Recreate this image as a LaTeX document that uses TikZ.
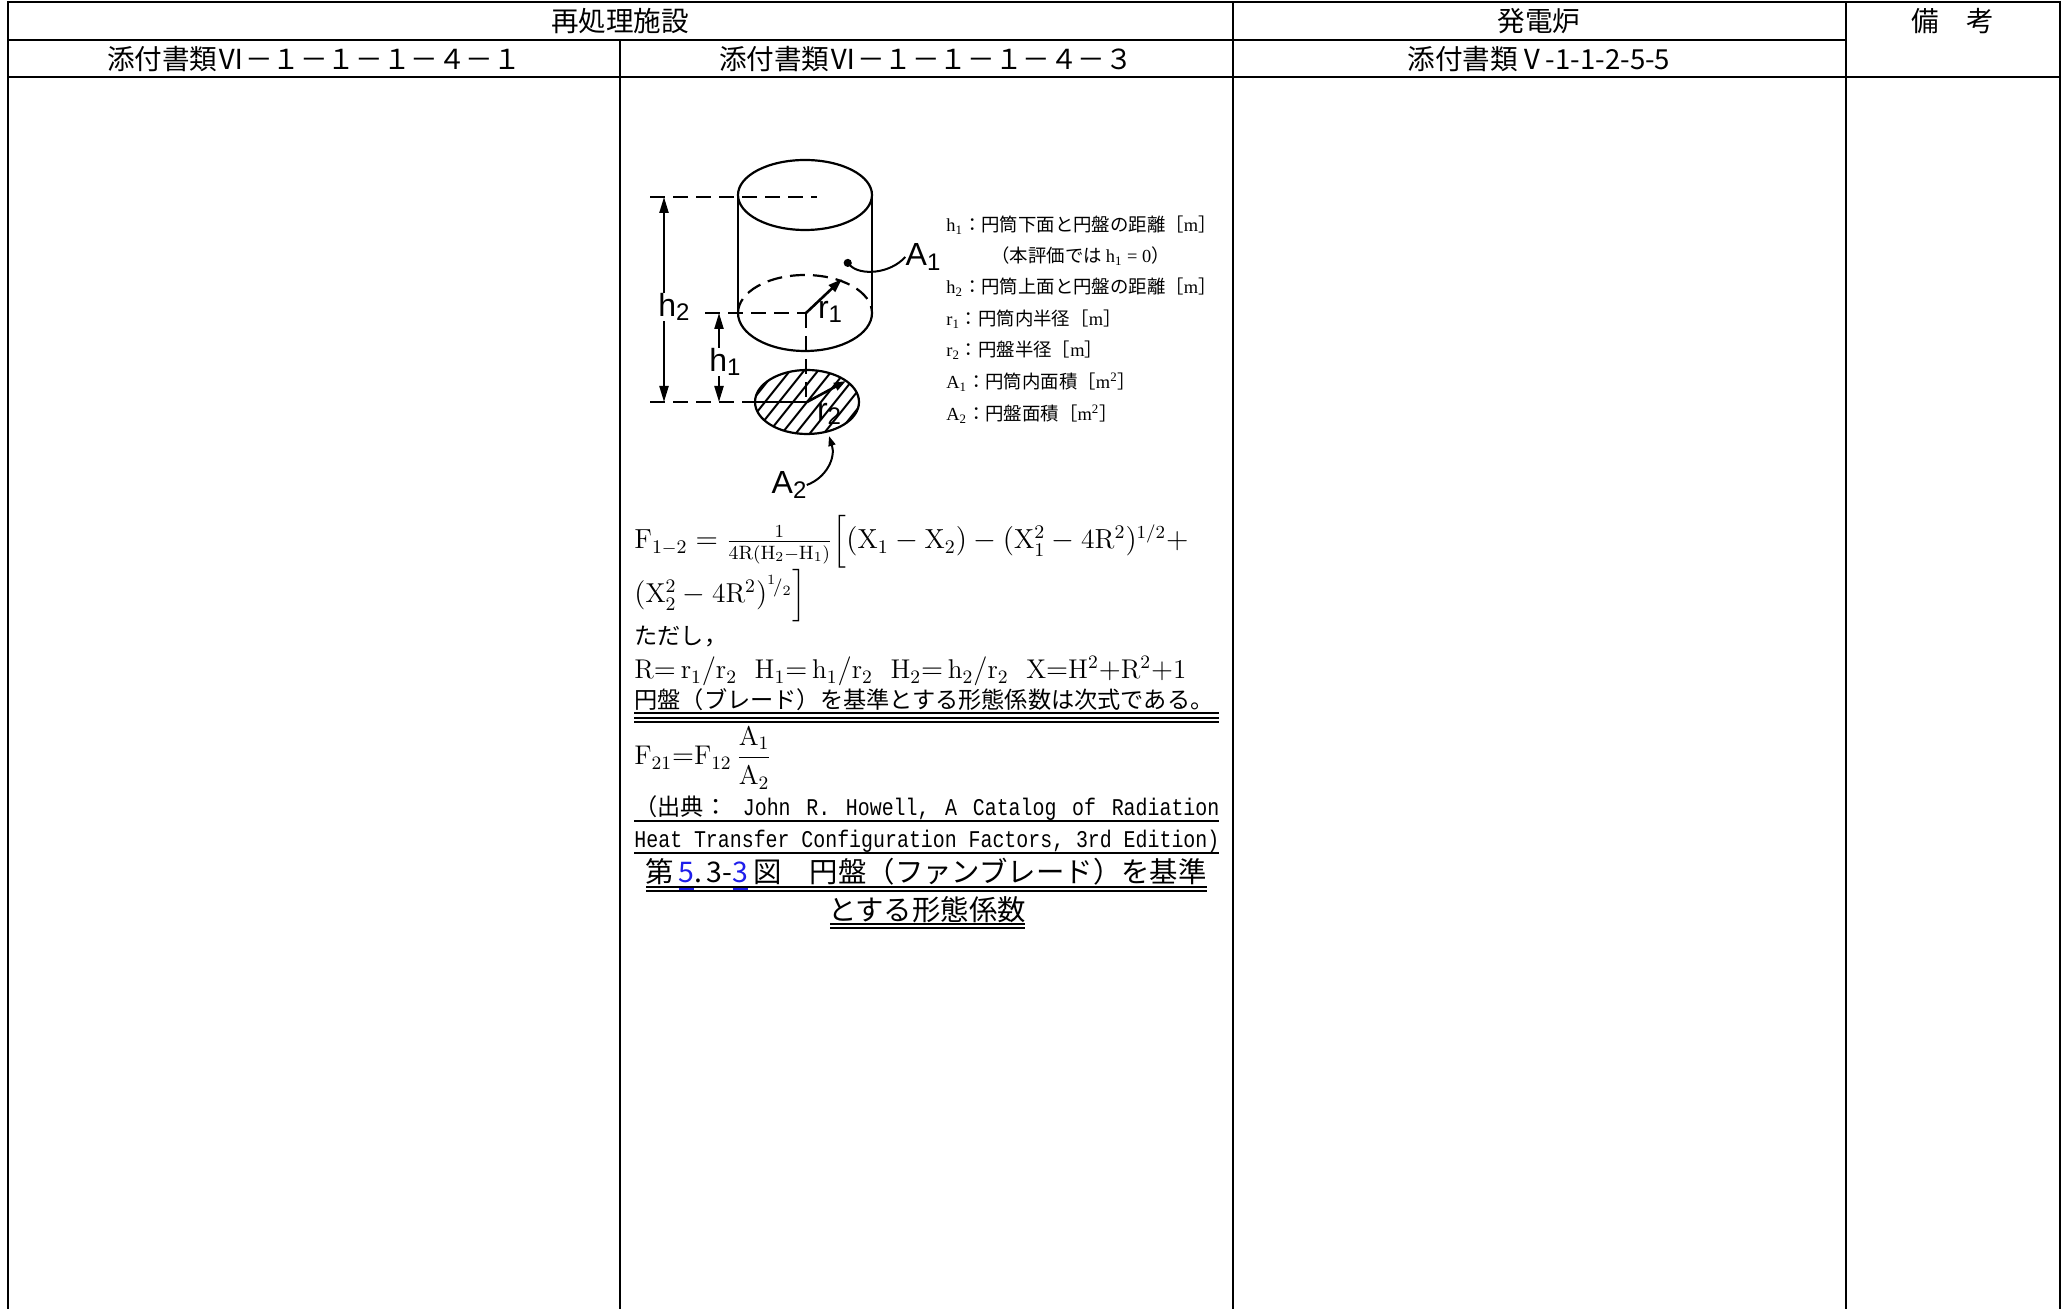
\documentclass[tikz,border=0pt]{standalone}
\usepackage{amsmath}
\usepackage{graphicx}
\usepackage{fontspec}
\usetikzlibrary{arrows.meta}
\newfontfamily\jp{Noto Sans CJK JP}
\newfontfamily\labf{Liberation Sans}
\newfontfamily\nmono[FakeStretch=0.83]{Liberation Mono}
\newfontfamily\tms{Liberation Serif}
\definecolor{refblue}{RGB}{30,30,235}
\newcommand\lsub[1]{\raisebox{-0.14em}{\fontsize{12pt}{12pt}\selectfont #1}}
\newcommand\bluul[1]{\setbox0\hbox{#1}\rlap{\color{refblue}\rule[-3.6pt]{\wd0}{1pt}}{\color{refblue}\box0}}
\tikzset{dtip/.tip={Triangle[length=8pt,width=4.5pt]}}
\begin{document}
\begin{tikzpicture}[x=0.5pt,y=-0.5pt,
  grid/.style={line width=1pt},
  hdr/.style={font=\jp\fontsize{13.8pt}{16pt}\selectfont, inner sep=0pt},
  leg/.style={font=\jp\fontsize{9.2pt}{11pt}\selectfont, anchor=base west, inner sep=0pt},
  fm/.style={font=\fontsize{13.5pt}{16pt}\selectfont, anchor=base west, inner sep=0pt},
  jtxt/.style={font=\jp\fontsize{11.6pt}{14pt}\selectfont, anchor=base west, inner sep=0pt},
  capt/.style={font=\jp\fontsize{14.2pt}{16pt}\selectfont, anchor=base, inner sep=0pt},
  ul/.style={line width=0.6pt},
  ulw/.style={line width=1pt},
  fig/.style={line width=1.1pt},
  dsh/.style={line width=1.1pt, dash pattern=on 7.5pt off 4pt},
  lbl/.style={font=\labf\fontsize{16pt}{16pt}\selectfont, inner sep=0pt}
]
\useasboundingbox (0,0) rectangle (2067,1309);
% ---- table frame ----
\draw[grid] (8,2) -- (2060,2);
\draw[grid] (8,40) -- (1846,40);
\draw[grid] (8,77) -- (2060,77);
\draw[line width=1.2pt] (8,1) -- (8,1309);
\draw[grid] (620,40) -- (620,1309);
\draw[grid] (1233,2) -- (1233,1309);
\draw[grid] (1846,2) -- (1846,1309);
\draw[grid] (2060,1) -- (2060,1309);
% ---- headers ----
\node[hdr] (h1) at (620,21) {再処理施設};
\node[hdr] (h2) at (1539,21) {発電炉};
\node[hdr] (h3) at (1953,21) {備　考};
\node[hdr] (h4) at (314,59) {添付書類Ⅵ－１－１－１－４－１};
\node[hdr] (h5) at (926,59) {添付書類Ⅵ－１－１－１－４－３};
\node[hdr] (h6) at (1539,59) {添付書類Ⅴ-1-1-2-5-5};
% ---- figure: cylinder ----
\draw[fig] (805,195) ellipse [x radius=33.5pt, y radius=17.5pt];
\draw[fig] (738,195) -- (738,313);
\draw[fig] (872,195) -- (872,313);
\draw[fig] (738,313) arc[start angle=180, end angle=360, x radius=33.5pt, y radius=19pt];
\draw[dsh] (738,313) arc[start angle=180, end angle=0, x radius=33.5pt, y radius=19pt];
\draw[dsh] (650,197) -- (817,197);
\draw[dsh] (705,313) -- (806,313);
\draw[dsh] (806,313) -- (806,402);
\draw[dsh] (650,402) -- (755,402);
% disk
\begin{scope}
  \clip (807,402) ellipse [x radius=26pt, y radius=16pt];
  \foreach \k in {-9,...,9} \draw[line width=1pt] (807+\k*14-40,452) -- ++(80,-100);
\end{scope}
\draw[fig] (807,402) ellipse [x radius=26pt, y radius=16pt];
\draw[fig] (755,402) -- (807,402);
\draw[line width=1.3pt, -{Triangle[length=7pt,width=4.5pt]}] (806,313) -- (842,279);
\draw[line width=1.3pt, -{Triangle[length=6pt,width=4pt]}] (807,402) -- (846,381);
% labels
\node[lbl] (lh2) at (674,307) {h\lsub{2}};
\node[lbl] (lh1) at (725,362) {h\lsub{1}};
\node[lbl] (lr1) at (830,312) {r\lsub{1}};
\node[lbl] (lr2) at (829,414) {r\lsub{2}};
\node[lbl] (la1) at (923,257) {A\lsub{1}};
\node[lbl] (la2) at (789,485) {A\lsub{2}};
% dimensions
\coordinate (t2) at (664,197);
\coordinate (b2) at (664,402);
\coordinate (t1) at (719,313);
\coordinate (b1) at (719,402);
\draw[fig, {dtip}-] (t2) -- (lh2.north -| t2);
\draw[fig, -{dtip}] (lh2.south -| t2) -- (b2);
\draw[fig, {dtip}-] (t1) -- (lh1.north -| t1);
\draw[fig, -{dtip}] (lh1.south -| t1) -- (b1);
\coordinate (a1tip) at (845,260);
\coordinate (a2tip) at (829,436);
\draw[line width=1pt, -{Circle[length=4pt]}] (la1.west) .. controls (890,274) and (860,276) .. (a1tip);
\draw[line width=1pt, -{Triangle[length=5pt,width=3.5pt]}] (la2.east) .. controls (826,478) and (836,458) .. (a2tip);
% ---- legend ----
\node[leg] (g1) at (946,232) {{\tms h\textsubscript{1}}：円筒下面と円盤の距離［{\tms m}］};
\node[leg] (g2) at (991,263) {（本評価では {\tms h\textsubscript{1} = 0}）};
\node[leg] (g3) at (946,294) {{\tms h\textsubscript{2}}：円筒上面と円盤の距離［{\tms m}］};
\node[leg] (g4) at (946,326) {{\tms r\textsubscript{1}}：円筒内半径［{\tms m}］};
\node[leg] (g5) at (946,357) {{\tms r\textsubscript{2}}：円盤半径［{\tms m}］};
\node[leg] (g6) at (946,389) {{\tms A\textsubscript{1}}：円筒内面積［{\tms m\textsuperscript{2}}］};
\node[leg] (g7) at (946,421) {{\tms A\textsubscript{2}}：円盤面積［{\tms m\textsuperscript{2}}］};
% ---- formulas ----
\node[fm] (f1) at (634,549) {\resizebox{277pt}{!}{$\mathrm{F_{1-2}} = \tfrac{1}{\mathrm{4R(H_2-H_1)}}\Big[(\mathrm{X_1}-\mathrm{X_2}) - (\mathrm{X_1^2}-\mathrm{4R^2})^{1/2} +$}};
\node[fm] (f2) at (634,603) {\resizebox{86pt}{!}{$(\mathrm{X_2^2}-\mathrm{4R^2})^{{}^1\!/_2}\Big]$}};
\node[jtxt] (f3) at (634,645) {ただし，};
\node[fm] (f4) at (634,679) {\resizebox{276pt}{!}{$\mathrm{R{=}\,r_1/r_2}\ \ \mathrm{H_1{=}\,h_1/r_2}\ \ \mathrm{H_2{=}\,h_2/r_2}\ \ \mathrm{X{=}H^2{+}R^2{+}1}$}};
\node[jtxt] (f5) at (634,709) {円盤（ブレード）を基準とする形態係数は次式である。};
\draw[ul] (634,713) -- (1219,713);
\draw[ulw] (634,718) -- (1219,718);
\draw[ulw] (634,722) -- (1219,722);
\node[fm] (f6) at (634,765) {$\mathrm{F_{21}{=}F_{12}}\,\dfrac{\mathrm{A_1}}{\mathrm{A_2}}$};
\node[jtxt] (f7) at (634,816) {\makebox[292.5pt][l]{（出典：\hfill{\nmono\fontsize{12pt}{14pt}\selectfont John}\hfill{\nmono\fontsize{12pt}{14pt}\selectfont R.}\hfill{\nmono\fontsize{12pt}{14pt}\selectfont Howell,}\hfill{\nmono\fontsize{12pt}{14pt}\selectfont A}\hfill{\nmono\fontsize{12pt}{14pt}\selectfont Catalog}\hfill{\nmono\fontsize{12pt}{14pt}\selectfont of}\hfill{\nmono\fontsize{12pt}{14pt}\selectfont Radiation}}};
\draw[ulw] (634,821) -- (1219,821);
\node[jtxt] (f8) at (634,848) {\makebox[292.5pt][l]{\nmono\fontsize{12pt}{14pt}\selectfont Heat\hfill Transfer\hfill Configuration\hfill Factors,\hfill 3rd\hfill Edition)}};
\draw[ulw] (634,853) -- (1219,853);
% ---- caption ----
\draw[ulw] (646,887) -- (1207,887);
\draw[ulw] (646,891) -- (1207,891);
\node[capt] (c1) at (926,883) {第\,\bluul{5}.\,3-\bluul{3}\,図　円盤（ファンブレード）を基準};
\draw[ulw] (830,924) -- (1025,924);
\draw[ulw] (830,928) -- (1025,928);
\node[capt] (c2) at (927,920) {とする形態係数};
\end{tikzpicture}
\end{document}
